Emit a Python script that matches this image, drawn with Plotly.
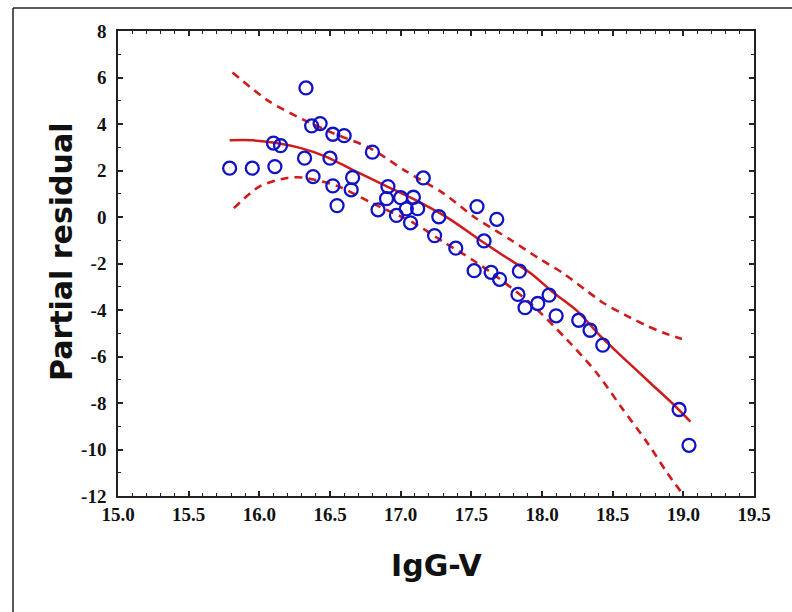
import plotly.graph_objects as go

# Partial residuals for IgG-V
igg_v = [16.33, 16.37, 16.43, 16.52, 16.60, 16.10, 16.15, 16.80, 16.32, 16.50,
         15.79, 15.95, 16.11, 17.16, 16.38, 16.66, 16.52, 16.65, 16.91, 16.55,
         16.90, 17.00, 17.09, 16.84, 16.97, 17.04, 17.12, 17.07, 17.27, 17.24,
         17.39, 17.54, 17.68, 17.59, 17.52, 17.64, 17.70, 17.84, 17.83, 17.88,
         17.97, 18.05, 18.10, 18.26, 18.34, 18.43, 18.97, 19.04]
partial_residual = [5.55, 3.92, 4.02, 3.56, 3.50, 3.18, 3.07, 2.79, 2.53, 2.53,
                    2.10, 2.10, 2.17, 1.68, 1.74, 1.70, 1.34, 1.17, 1.31, 0.49,
                    0.79, 0.83, 0.85, 0.31, 0.07, 0.35, 0.36, -0.25, 0.01, -0.80,
                    -1.34, 0.45, -0.10, -1.03, -2.31, -2.38, -2.68, -2.33, -3.33, -3.90,
                    -3.72, -3.36, -4.25, -4.44, -4.87, -5.51, -8.28, -9.82]

# Smoothed fit
fit_x = [15.79, 15.95, 16.12, 16.30, 16.47, 16.66, 16.88, 17.14, 17.35, 17.56,
         17.75, 17.92, 18.08, 18.25, 18.41, 18.60, 18.77, 18.92, 19.05]
fit_y = [3.30, 3.30, 3.18, 2.95, 2.60, 2.03, 1.38, 0.62, -0.10, -0.99,
         -1.75, -2.42, -3.25, -4.05, -5.10, -6.20, -7.16, -8.00, -8.80]

# Confidence band, upper edge
upper_x = [15.81, 16.07, 16.31, 16.52, 16.78, 17.04, 17.30, 17.52, 17.78, 17.97,
           18.15, 18.30, 18.44, 18.60, 18.75, 18.86, 18.99]
upper_y = [6.22, 4.97, 4.19, 3.61, 2.97, 1.96, 1.03, 0.00, -0.99, -1.75,
           -2.42, -3.10, -3.72, -4.25, -4.70, -4.98, -5.25]

# Confidence band, lower edge
lower_x = [15.82, 16.00, 16.19, 16.30, 16.55, 16.80, 17.09, 17.30, 17.51, 17.68,
           17.92, 18.18, 18.39, 18.56, 18.75, 18.89, 19.00]
lower_y = [0.38, 1.31, 1.67, 1.70, 1.34, 0.59, -0.25, -1.06, -1.85, -2.57,
           -3.72, -5.30, -6.73, -8.17, -9.75, -11.04, -11.95]

x_ticks = [15.0, 15.5, 16.0, 16.5, 17.0, 17.5, 18.0, 18.5, 19.0, 19.5]
y_ticks = [8, 6, 4, 2, 0, -2, -4, -6, -8, -10, -12]

red = "#cf1b1b"
blue = "#1212c4"

fig = go.Figure()
fig.add_trace(go.Scatter(x=upper_x, y=upper_y, mode="lines",
                         line=dict(color=red, width=2.6, dash="8px,6px", shape="spline", smoothing=0.8),
                         hoverinfo="skip"))
fig.add_trace(go.Scatter(x=lower_x, y=lower_y, mode="lines",
                         line=dict(color=red, width=2.6, dash="8px,6px", shape="spline", smoothing=0.8),
                         hoverinfo="skip"))
fig.add_trace(go.Scatter(x=fit_x, y=fit_y, mode="lines",
                         line=dict(color=red, width=2.5, shape="spline", smoothing=0.8)))
fig.add_trace(go.Scatter(x=igg_v, y=partial_residual, mode="markers",
                         marker=dict(symbol="circle-open", size=13, color=blue,
                                     line=dict(width=2.3, color=blue))))

tick_font = dict(family="Liberation Serif", size=19, color="#111111", weight="bold")
axis_common = dict(showline=True, linecolor="#222222", linewidth=1.5, mirror="allticks",
                   ticks="inside", ticklen=5, tickwidth=1.5, tickcolor="#222222",
                   showgrid=False, zeroline=False, tickfont=tick_font)

fig.update_xaxes(range=[15.0, 19.5], tickvals=x_ticks, ticktext=[f"{v:.1f}" for v in x_ticks],
                 minor=dict(dtick=0.1, ticks="inside", ticklen=3, tickwidth=1.2, tickcolor="#222222"),
                 ticklabelstandoff=0, **axis_common)
fig.update_yaxes(range=[-12, 8], tickvals=y_ticks, ticktext=[str(v) for v in y_ticks],
                 minor=dict(dtick=1, ticks="inside", ticklen=3, tickwidth=1.2, tickcolor="#222222"),
                 ticklabelstandoff=6, **axis_common)

# paper coordinates of the plot area: x 118..754 px, y 31..496 px
pw, ph = 636.0, 465.0
def px(xp):
    return (xp - 118) / pw
def py(yp):
    return (496 - yp) / ph

fig.update_layout(
    width=792, height=612,
    margin=dict(l=118, r=38, t=31, b=116),
    paper_bgcolor="white", plot_bgcolor="white",
    showlegend=False,
    annotations=[
        dict(text="Partial residual", xref="paper", yref="paper", x=px(62), y=py(252),
             textangle=-90, showarrow=False, xanchor="center", yanchor="middle",
             font=dict(family="DejaVu Sans", size=30, color="#111111", weight="bold")),
        dict(text="IgG-V", xref="paper", yref="paper", x=px(437), y=py(565),
             showarrow=False, xanchor="center", yanchor="middle",
             font=dict(family="DejaVu Sans", size=30, color="#111111", weight="bold")),
    ],
    shapes=[
        dict(type="line", xref="paper", yref="paper", x0=px(13), x1=px(13), y0=py(630), y1=py(8),
             line=dict(color="#222222", width=1.5)),
        dict(type="line", xref="paper", yref="paper", x0=px(13), x1=px(810), y0=py(8), y1=py(8),
             line=dict(color="#222222", width=1.5)),
    ],
)

fig.write_html("out.html")
